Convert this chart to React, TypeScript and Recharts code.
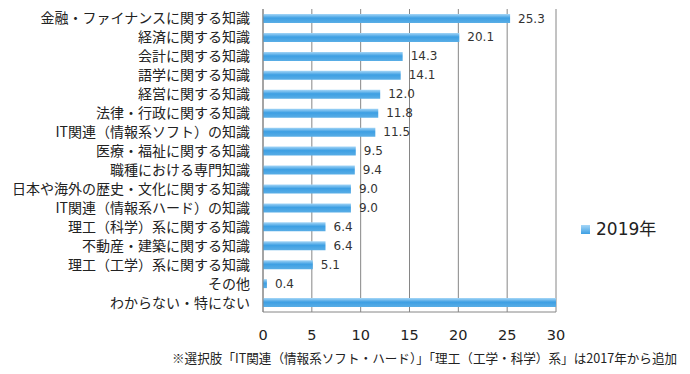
import React from 'react';
import { BarChart, Bar, XAxis, YAxis, CartesianGrid, LabelList } from 'recharts';

const categories = [
  '金融・ファイナンスに関する知識',
  '経済に関する知識',
  '会計に関する知識',
  '語学に関する知識',
  '経営に関する知識',
  '法律・行政に関する知識',
  'IT関連（情報系ソフト）の知識',
  '医療・福祉に関する知識',
  '職種における専門知識',
  '日本や海外の歴史・文化に関する知識',
  'IT関連（情報系ハード）の知識',
  '理工（科学）系に関する知識',
  '不動産・建築に関する知識',
  '理工（工学）系に関する知識',
  'その他',
  'わからない・特にない',
];
const values2019 = [25.3, 20.1, 14.3, 14.1, 12.0, 11.8, 11.5, 9.5, 9.4, 9.0, 9.0, 6.4, 6.4, 5.1, 0.4, 37.5];
const xTicks = [0, 5, 10, 15, 20, 25, 30];
const seriesName = '2019年';
const footnote = '※選択肢「IT関連（情報系ソフト・ハード）」「理工（工学・科学）系」は2017年から追加';

const data = categories.map((name, i) => ({ name, v: values2019[i] }));

const FONT = '"Noto Sans CJK JP", "Noto Sans", sans-serif';
const NUMFONT = '"DejaVu Sans", "Noto Sans CJK JP", sans-serif';

const renderLabel = (props: any) => {
  const { x, y, width, height, value } = props;
  if (value > 30) return null;
  return (
    <text
      x={x + width + 8}
      y={y + height / 2}
      dominantBaseline="central"
      fontSize={12}
      fontFamily={NUMFONT}
      fill="#333"
    >
      {Number(value).toFixed(1)}
    </text>
  );
};

export default function App() {
  return (
    <div style={{ position: 'absolute', left: 0, top: 0, width: 690, height: 374, background: '#fff', fontFamily: FONT }}>
      <BarChart
        width={690}
        height={374}
        data={data}
        layout="vertical"
        margin={{ top: 9, right: 134, left: 0, bottom: 32 }}
        barCategoryGap={5}
      >
        <defs>
          <linearGradient id="barGrad" x1="0" y1="0" x2="0" y2="1">
            <stop offset="0%" stopColor="#a5d6f7" />
            <stop offset="45%" stopColor="#3d9fe3" />
            <stop offset="100%" stopColor="#5aaee6" />
          </linearGradient>
        </defs>
        <CartesianGrid horizontal={false} vertical={true} stroke="#868686" strokeWidth={1} />
        <XAxis
          type="number"
          domain={[0, 30]}
          ticks={xTicks}
          allowDataOverflow
          height={30}
          axisLine={{ stroke: '#868686' }}
          tickLine={false}
          tickMargin={12}
          tick={{ fontSize: 14.5, fill: '#222', fontFamily: NUMFONT }}
          interval={0}
        />
        <YAxis
          type="category"
          dataKey="name"
          width={263}
          axisLine={{ stroke: '#868686' }}
          tickLine={false}
          tickSize={0}
          tickMargin={13}
          interval={0}
          tick={{ fontSize: 14, fill: '#222', fontFamily: FONT }}
        />
        <Bar dataKey="v" fill="url(#barGrad)" barSize={9} isAnimationActive={false}>
          <LabelList dataKey="v" content={renderLabel} />
        </Bar>
      </BarChart>
      <div style={{ position: 'absolute', left: 581, top: 219, display: 'flex', alignItems: 'center' }}>
        <div style={{ width: 9, height: 9, background: 'linear-gradient(#a5d6f7, #3d9fe3)', marginRight: 6 }} />
        <span style={{ fontSize: 17, color: '#222', lineHeight: '20px', fontFamily: NUMFONT }}>{seriesName}</span>
      </div>
      <div style={{ position: 'absolute', left: 172, top: 350, fontSize: 12.6, color: '#222', whiteSpace: 'nowrap', lineHeight: '16px' }}>
        {footnote}
      </div>
    </div>
  );
}
